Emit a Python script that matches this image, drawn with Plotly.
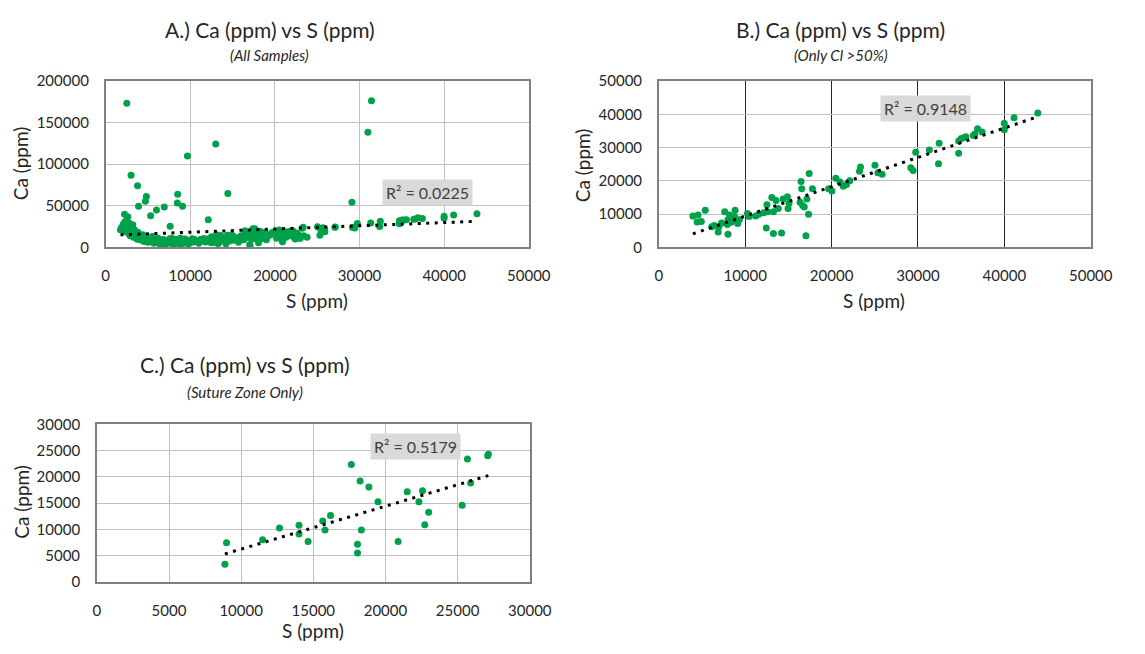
import numpy as np
import plotly.graph_objects as go

W, H = 1145, 654
def px(x): return x / W
def py(y): return 1 - y / H

# ---------------- data ----------------
# B.) Only Cl > 50%
b_s = [3946, 4548, 5375, 4436, 4924, 6127, 6428, 6954, 6879, 7255, 7631, 8007, 7932, 8007, 8195,
       8308, 8383, 8834, 8759, 9135, 9323, 10263, 10451, 11203, 11579, 12143, 12519, 12594, 13083,
       13271, 13572, 13835, 12444, 13271, 14211, 14399, 14888, 15076, 14963, 16467, 16542, 17407,
       17783, 16354, 16843, 17332, 17144, 17031, 16655, 19663, 20039, 20490, 20979, 21355, 21731,
       22107, 23235, 23348, 25024, 25363, 25853, 29171, 29435, 29736, 31320, 32451, 32375, 34713,
       34713, 35014, 35278, 35542, 36409, 36598, 36899, 37427, 39990, 39990, 41121, 43873]
b_ca = [9423, 9711, 11154, 7595, 7787, 6152, 6537, 6152, 4613, 7306, 10673, 8268, 6826, 3939, 9711,
        8749, 7498, 11154, 9230, 7114, 8268, 10192, 9230, 9423, 9904, 10385, 12790, 10673, 15002,
        10673, 14040, 11635, 5767, 4132, 4324, 14521, 15194, 13271, 11635, 19812, 17600, 22217,
        17600, 13559, 12116, 9904, 14521, 3459, 12597, 17600, 16926, 20774, 19620, 18369, 18850,
        20004, 22891, 24141, 24660, 22426, 21941, 23883, 23106, 28544, 29223, 31262, 25145, 28252,
        31942, 32719, 32913, 33204, 33592, 34078, 35632, 34661, 35340, 37282, 38933, 40390]

# C.) Suture Zone Only
c_s = [8987, 8874, 11486, 12657, 14009, 14009, 14640, 15653, 15810, 16193, 17634, 18242, 18850,
       19481, 18332, 18062, 18062, 20877, 21507, 22566, 22318, 22994, 22724, 25314, 25680, 25900,
       27080, 27130]
c_ca = [7440, 3353, 7990, 10246, 10795, 9087, 7684, 11588, 9880, 12625, 22324, 19213, 18054,
        15248, 9880, 7135, 5488, 7684, 17139, 17322, 15248, 13235, 10856, 14577, 23400, 18800,
        24000, 24300]

# A.) additional samples (not in B or C)
a_extra_s = [2502, 3002, 3772, 3887, 4811, 4695, 5312, 6005, 6928, 8510, 8471, 9088, 9665, 13010,
             14434, 12125, 7621, 2232, 2617, 1848, 31409, 30986, 29099,
             1750, 1900, 2100, 2200, 2300, 2450, 2600, 2700, 2800, 2900, 3000, 3100, 3200, 3300,
             3400, 3500, 3700, 3800, 4000, 4200, 4400, 4600, 4800, 5000, 5200, 5500, 5700, 5900,
             6200, 6400, 6600, 6800, 7000, 7200, 7400, 7600, 7800, 8000, 8200, 8400, 8600, 8800,
             9000, 9200, 9400, 9600, 9800, 10000, 10300, 10500, 10800, 11000, 11300, 11600, 11800,
             12000, 12300, 12600, 12800, 13100, 13400, 13700, 14000, 14200, 14500, 14800, 15100,
             15400, 15700, 16000, 16300, 16600, 16900, 17055, 17300, 17600, 17900, 18200, 18600,
             19000, 19400, 19800, 20200, 20600, 20900, 21300, 21700, 22000, 22400, 22700, 23000,
             23400, 23800]
a_extra_ca = [173100, 86500, 74100, 49500, 61200, 55300, 37800, 44800, 48300, 63900, 53400, 49500,
              109900, 124300, 64700, 33100, 25300, 39800, 36600, 21400, 176200, 138400, 54200,
              21000, 24000, 28000, 19000, 31000, 26000, 22000, 17000, 29000, 14000, 24000, 19000,
              27000, 12000, 21000, 16000, 10000, 18000, 13000, 9000, 15000, 7000, 11000, 6000, 9000,
              13000, 5000, 8000, 11000, 4000, 7000, 9500, 3000, 6000, 8500, 5000, 11000, 3500, 7000,
              9000, 4500, 6500, 8000, 5000, 10000, 7000, 4000, 8500, 6000, 9500, 7000, 5000, 8000,
              10500, 6500, 9000, 7500, 5500, 11000, 8000, 6000, 9500, 12000, 7000, 10000, 13000,
              8500, 11000, 6000, 14000, 9000, 12000, 16000, 1800, 10000, 14000, 18000, 12000, 16000,
              9000, 14500, 18000, 11000, 15000, 6600, 12000, 17000, 13500, 10000, 16000, 11000,
              14000, 12000]

a_s = b_s + c_s + a_extra_s
a_ca = b_ca + c_ca + a_extra_ca

r2_labels = ["R\u00b2 = 0.0225", "R\u00b2 = 0.9148", "R\u00b2 = 0.5179"]
titles = ["A.) Ca (ppm) vs S (ppm)", "B.) Ca (ppm) vs S (ppm)", "C.) Ca (ppm) vs S (ppm)"]
subtitles = ["(All Samples)", "(Only Cl >50%)", "(Suture Zone Only)"]

# ---------------- figure ----------------
GREEN = "#00A14B"
FONT = "Lato"
TXT = "#404040"

fig = go.Figure()
panels = [
    (a_s, a_ca, "x", "y"),
    (b_s, b_ca, "x2", "y2"),
    (c_s, c_ca, "x3", "y3"),
]
for s, ca, xa, ya in panels:
    fig.add_trace(go.Scatter(x=s, y=ca, mode="markers", xaxis=xa, yaxis=ya,
                             marker=dict(color=GREEN, size=7), showlegend=False,
                             hoverinfo="x+y"))
    coef = np.polyfit(np.array(s, float), np.array(ca, float), 1)
    xs = np.array([min(s), max(s)], float)
    fig.add_trace(go.Scatter(x=xs, y=np.polyval(coef, xs), mode="lines", xaxis=xa, yaxis=ya,
                             line=dict(color="black", width=3, dash="3px,5.5px"),
                             showlegend=False, hoverinfo="skip"))

def xax(domain, rng, dtick, gridcolor="#BFBFBF"):
    return dict(domain=domain, range=rng, dtick=dtick, tick0=0, showgrid=True,
                gridcolor=gridcolor, gridwidth=1, zeroline=False, showline=True,
                linecolor="#808080", linewidth=1.5, mirror=True, ticks="outside",
                ticklen=14, tickcolor="rgba(0,0,0,0)", tickformat="d",
                tickfont=dict(family=FONT, size=15, color="#262626"))

def yax(domain, rng, dtick, anchor):
    return dict(domain=domain, range=rng, dtick=dtick, tick0=0, showgrid=True,
                gridcolor="#BFBFBF", gridwidth=1, zeroline=False, showline=True,
                linecolor="#808080", linewidth=1.5, mirror=True, ticks="outside",
                ticklen=12, tickcolor="rgba(0,0,0,0)", anchor=anchor, tickformat="d",
                tickfont=dict(family=FONT, size=15, color="#262626"))

fig.update_layout(
    width=W, height=H, margin=dict(l=0, r=0, t=0, b=0),
    paper_bgcolor="white", plot_bgcolor="white",
    xaxis=dict(xax([px(104), px(537)], [0, 50000], 10000), anchor="y"),
    yaxis=yax([py(244), py(73)], [0, 200000], 50000, "x"),
    xaxis2=dict(xax([px(670), px(1112)], [0, 50000], 10000, gridcolor="#262626"), anchor="y2"),
    yaxis2=yax([py(244), py(73)], [0, 50000], 10000, "x2"),
    xaxis3=dict(xax([px(95), px(538)], [0, 30000], 5000), anchor="y3"),
    yaxis3=yax([py(588), py(426)], [0, 30000], 5000, "x3"),
)

ann = []
def text(x, y, t, size, italic=False, angle=0, color="#262626"):
    ann.append(dict(x=px(x), y=py(y), xref="paper", yref="paper", text=t, showarrow=False,
                    textangle=angle, xanchor="center", yanchor="middle",
                    font=dict(family=FONT, size=size, color=color,
                              style="italic" if italic else "normal")))

# titles
text(272, 20, titles[0], 21)
text(272, 46, subtitles[0], 15, italic=True)
text(856, 20, titles[1], 21)
text(856, 46, subtitles[1], 15, italic=True)
text(247, 365, titles[2], 21)
text(247, 393, subtitles[2], 15, italic=True)
# axis titles
text(320, 299, "S (ppm)", 19)
text(17, 158, "Ca (ppm)", 19, angle=-90)
text(890, 299, "S (ppm)", 19)
text(592, 160, "Ca (ppm)", 19, angle=-90)
text(316, 638, "S (ppm)", 19)
text(17, 506, "Ca (ppm)", 19, angle=-90)

# R^2 labels
for (xx, yy), lab in zip([(433, 188), (943, 101), (421, 449)], r2_labels):
    ann.append(dict(x=px(xx), y=py(yy), xref="paper", yref="paper", text=lab, showarrow=False,
                    xanchor="center", yanchor="middle", bgcolor="#D9D9D9", borderpad=3,
                    font=dict(family=FONT, size=16, color=TXT)))

fig.update_layout(annotations=ann)
fig.write_html("out.html")
